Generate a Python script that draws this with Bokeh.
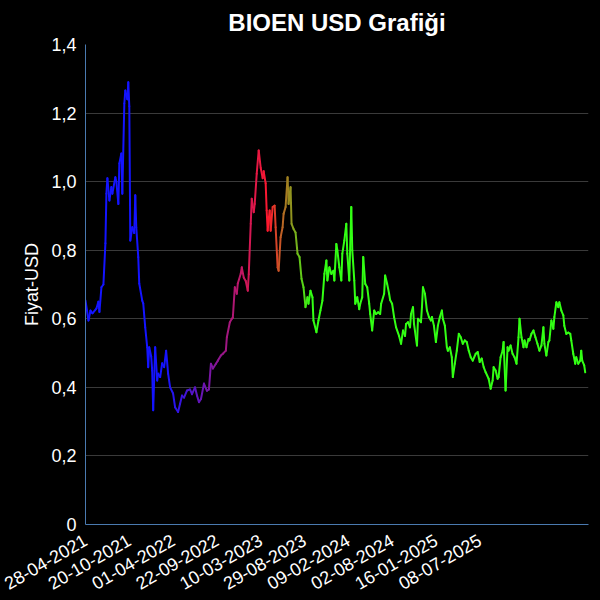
import numpy as np
from bokeh.plotting import figure
from bokeh.models import ColumnDataSource, FixedTicker, CustomJSTickFormatter
from bokeh.embed import file_html
from bokeh.resources import INLINE

# ---- data (category index of each sample, price in USD) ----
idx = [0, 3, 5, 7, 11, 13, 14, 16, 18, 20, 21, 22, 24, 26, 27, 30, 31, 33, 34, 36,
       37, 39, 40, 42, 43, 44, 45, 47, 49, 50, 51, 53, 54, 57, 58, 60, 62, 63, 64, 66,
       67, 68, 70, 72, 73, 75, 77, 79, 81, 83, 85, 88, 90, 93, 95, 97, 99, 102, 105, 107,
       110, 112, 114, 116, 119, 122, 124, 126, 128, 131, 133, 136, 138, 141, 142, 145, 147, 148, 150, 152,
       153, 156, 157, 159, 161, 163, 164, 166, 167, 169, 170, 172, 174, 176, 178, 179, 181, 182, 183, 185,
       186, 188, 190, 191, 193, 194, 196, 198, 199, 201, 203, 204, 206, 207, 209, 211, 213, 215, 217, 219,
       221, 223, 224, 226, 228, 229, 232, 234, 236, 238, 240, 242, 243, 245, 247, 249, 250, 252, 253, 255,
       257, 258, 260, 262, 263, 265, 267, 268, 270, 271, 273, 275, 276, 278, 279, 281, 283, 285, 286, 288,
       290, 292, 294, 296, 297, 300, 301, 303, 305, 306, 308, 310, 312, 315, 317, 319, 321, 322, 324, 326,
       327, 329, 330, 333, 334, 337, 338, 339, 341, 343, 345, 347, 348, 350, 352, 354, 356, 358, 359, 361,
       363, 364, 366, 368, 369, 371, 373, 375, 377, 379, 381, 383, 385, 387, 389, 392, 394, 396, 398, 400,
       402, 405, 407, 409, 410, 412, 414, 415, 417, 419, 420, 422, 424, 425, 427, 429, 431, 433, 435, 436,
       438, 440, 441, 443, 445, 446, 448, 450, 452, 454, 456, 458, 460, 461, 463, 465, 466, 468, 470, 471,
       473, 475, 476, 478, 480, 481, 483, 485, 487, 488, 490, 492, 493, 495, 497, 498, 499, 501, 502]

price = [0.653, 0.595, 0.624, 0.616, 0.630, 0.650, 0.620, 0.692, 0.700, 0.820, 0.965, 1.010, 0.945, 0.984, 0.965, 1.013, 1.000, 0.935, 1.053, 1.082,
         0.965, 1.228, 1.266, 1.240, 1.290, 1.220, 0.828, 0.867, 0.850, 0.960, 0.867, 0.780, 0.703, 0.653, 0.645, 0.575, 0.517, 0.459, 0.517, 0.490,
         0.449, 0.333, 0.517, 0.420, 0.440, 0.430, 0.470, 0.459, 0.507, 0.440, 0.400, 0.382, 0.342, 0.328, 0.352, 0.376, 0.370, 0.391, 0.394, 0.380,
         0.400, 0.376, 0.357, 0.366, 0.411, 0.390, 0.394, 0.469, 0.455, 0.469, 0.478, 0.493, 0.498, 0.507, 0.546, 0.590, 0.600, 0.603, 0.692, 0.673,
         0.703, 0.732, 0.750, 0.720, 0.710, 0.682, 0.730, 0.877, 0.950, 0.911, 0.935, 1.023, 1.091, 1.040, 1.010, 1.030, 0.995, 0.916, 0.857, 0.916,
         0.857, 0.926, 0.930, 0.867, 0.750, 0.740, 0.838, 0.867, 0.906, 0.926, 1.013, 0.935, 0.984, 0.877, 0.862, 0.852, 0.790, 0.780, 0.717, 0.692,
         0.634, 0.663, 0.644, 0.682, 0.663, 0.595, 0.561, 0.595, 0.624, 0.653, 0.731, 0.770, 0.712, 0.750, 0.731, 0.740, 0.712, 0.818, 0.800, 0.750,
         0.712, 0.790, 0.828, 0.877, 0.790, 0.712, 0.926, 0.800, 0.712, 0.644, 0.663, 0.628, 0.644, 0.663, 0.780, 0.702, 0.692, 0.644, 0.614, 0.566,
         0.624, 0.614, 0.619, 0.614, 0.644, 0.673, 0.726, 0.702, 0.673, 0.655, 0.644, 0.605, 0.575, 0.550, 0.527, 0.566, 0.550, 0.585, 0.590, 0.575,
         0.614, 0.634, 0.585, 0.522, 0.600, 0.590, 0.634, 0.692, 0.673, 0.624, 0.605, 0.595, 0.605, 0.580, 0.532, 0.580, 0.605, 0.624, 0.600, 0.580,
         0.517, 0.507, 0.517, 0.488, 0.430, 0.469, 0.507, 0.556, 0.546, 0.527, 0.537, 0.532, 0.507, 0.488, 0.478, 0.498, 0.503, 0.474, 0.484, 0.459,
         0.444, 0.425, 0.396, 0.420, 0.459, 0.449, 0.425, 0.430, 0.488, 0.507, 0.532, 0.391, 0.517, 0.507, 0.522, 0.498, 0.488, 0.469, 0.546, 0.600,
         0.546, 0.517, 0.537, 0.517, 0.541, 0.537, 0.556, 0.566, 0.546, 0.527, 0.507, 0.522, 0.575, 0.527, 0.493, 0.532, 0.537, 0.595, 0.571, 0.605,
         0.648, 0.634, 0.648, 0.624, 0.610, 0.580, 0.556, 0.560, 0.556, 0.537, 0.498, 0.469, 0.488, 0.469, 0.478, 0.507, 0.478, 0.464, 0.444]

tick_idx = [0, 44, 88, 132, 176, 220, 264, 308, 352, 396]
tick_labels = ["28-04-2021", "20-10-2021", "01-04-2022", "22-09-2022", "10-03-2023",
               "29-08-2023", "09-02-2024", "02-08-2024", "16-01-2025", "08-07-2025"]
y_ticks = [0, 0.2, 0.4, 0.6, 0.8, 1.0, 1.2, 1.4]

# ---- colour gradient along the series ----
grad_pos = [0, 80, 184, 226, 502]
grad_rgb = [(20, 20, 255), (20, 20, 255), (255, 25, 45), (50, 255, 20), (50, 255, 20)]

x = np.array(idx, dtype=float)
y = np.array(price, dtype=float)
xm = (x[:-1] + x[1:]) / 2
cols = []
for xv in xm:
    r = np.interp(xv, grad_pos, [c[0] for c in grad_rgb])
    g = np.interp(xv, grad_pos, [c[1] for c in grad_rgb])
    b = np.interp(xv, grad_pos, [c[2] for c in grad_rgb])
    cols.append("#%02x%02x%02x" % (int(r), int(g), int(b)))

src = ColumnDataSource(dict(x0=x[:-1], y0=y[:-1], x1=x[1:], y1=y[1:], c=cols))

p = figure(width=598, height=598, output_backend="svg", toolbar_location=None,
           x_range=(0, 505.3), y_range=(0, 1.4),
           min_border_left=85, min_border_right=10, min_border_top=44, min_border_bottom=74,
           title="BIOEN USD Grafiği")
p.background_fill_color = "black"
p.border_fill_color = "black"
p.outline_line_color = None

p.title.align = "center"
p.title.text_color = "white"
p.title.text_font = "Liberation Sans"
p.title.text_font_size = "24px"
p.title.text_font_style = "bold"
p.title.text_line_height = 0.8
p.title.standoff = 14
p.title.vertical_align = "top"

p.segment("x0", "y0", "x1", "y1", source=src, line_color="c", line_width=2, line_cap="round")

p.xgrid.grid_line_color = None
p.ygrid.grid_line_color = "#3a3a3a"
p.ygrid.grid_line_width = 1

for ax in (p.xaxis[0], p.yaxis[0]):
    ax.axis_line_color = "#4a7ab0"
    ax.axis_line_width = 1
    ax.major_tick_line_color = None
    ax.minor_tick_line_color = None
    ax.major_label_text_color = "white"
    ax.major_label_text_font = "Liberation Sans"
    ax.major_label_text_font_size = "18px"

p.xaxis.ticker = FixedTicker(ticks=tick_idx)
p.xaxis.major_label_overrides = {t: l for t, l in zip(tick_idx, tick_labels)}
p.xaxis.major_label_orientation = np.pi / 6
p.xaxis.major_label_standoff = 8

p.yaxis.ticker = FixedTicker(ticks=y_ticks)
p.yaxis.formatter = CustomJSTickFormatter(code="return tick == 0 ? '0' : tick.toFixed(1).replace('.', ',');")
p.yaxis.major_label_standoff = 3
p.yaxis.axis_label = "Fiyat-USD"
p.yaxis.axis_label_text_color = "white"
p.yaxis.axis_label_text_font = "Liberation Sans"
p.yaxis.axis_label_text_font_size = "18px"
p.yaxis.axis_label_text_font_style = "normal"
p.yaxis.axis_label_standoff = 6

html = file_html(p, INLINE)
html = html.replace("<head>", "<head><style>body{background:#000;}</style>", 1)
open("out.html", "w").write(html)
